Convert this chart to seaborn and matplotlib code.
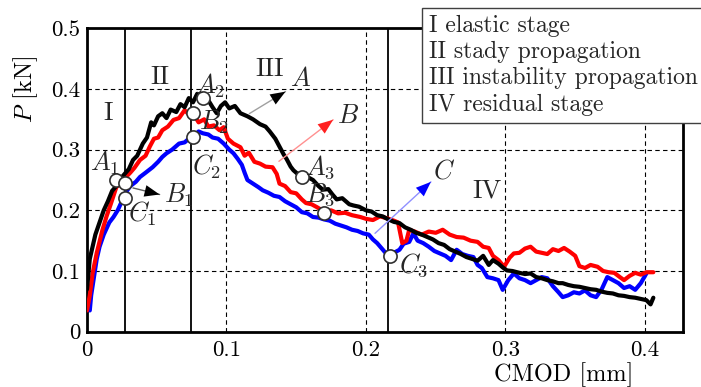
import matplotlib
matplotlib.use("Agg")
import matplotlib.pyplot as plt
import pandas as pd
import seaborn as sns

# specimen A (black)
a_x = [0.000, 0.002, 0.004, 0.006, 0.009, 0.012, 0.015, 0.018, 0.021, 0.024, 0.027, 0.030, 0.033, 0.036,
       0.040, 0.043, 0.046, 0.048, 0.051, 0.054, 0.057, 0.060, 0.064, 0.067, 0.070, 0.073, 0.076, 0.079,
       0.083, 0.086, 0.090, 0.093, 0.096, 0.099, 0.102, 0.106, 0.110, 0.115, 0.119, 0.124, 0.128, 0.131,
       0.135, 0.138, 0.141, 0.143, 0.146, 0.148, 0.151, 0.154, 0.158, 0.162, 0.166, 0.169, 0.173, 0.176,
       0.179, 0.183, 0.188, 0.191, 0.195, 0.200, 0.204, 0.208, 0.212, 0.216, 0.220, 0.224, 0.228, 0.232,
       0.236, 0.240, 0.244, 0.248, 0.252, 0.256, 0.260, 0.264, 0.268, 0.272, 0.276, 0.280, 0.284, 0.288,
       0.291, 0.295, 0.298, 0.301, 0.305, 0.310, 0.314, 0.318, 0.322, 0.326, 0.330, 0.334, 0.338, 0.341,
       0.345, 0.349, 0.353, 0.357, 0.361, 0.365, 0.369, 0.373, 0.377, 0.381, 0.385, 0.389, 0.393, 0.397,
       0.401, 0.404, 0.406]
a_y = [0.070, 0.120, 0.140, 0.160, 0.180, 0.200, 0.215, 0.232, 0.240, 0.252, 0.260, 0.268, 0.283, 0.290,
       0.310, 0.320, 0.345, 0.340, 0.355, 0.360, 0.352, 0.366, 0.362, 0.375, 0.370, 0.385, 0.378, 0.392,
       0.380, 0.385, 0.370, 0.360, 0.372, 0.378, 0.368, 0.372, 0.360, 0.355, 0.350, 0.342, 0.338, 0.330,
       0.318, 0.305, 0.292, 0.285, 0.272, 0.266, 0.260, 0.256, 0.255, 0.250, 0.240, 0.234, 0.235, 0.226,
       0.218, 0.220, 0.210, 0.208, 0.206, 0.200, 0.198, 0.192, 0.190, 0.185, 0.181, 0.179, 0.172, 0.168,
       0.163, 0.160, 0.156, 0.152, 0.146, 0.143, 0.136, 0.132, 0.128, 0.123, 0.120, 0.117, 0.125, 0.110,
       0.118, 0.112, 0.106, 0.101, 0.100, 0.097, 0.095, 0.096, 0.090, 0.088, 0.085, 0.083, 0.080, 0.080,
       0.077, 0.075, 0.074, 0.072, 0.070, 0.069, 0.066, 0.064, 0.063, 0.060, 0.059, 0.057, 0.056, 0.054,
       0.052, 0.045, 0.056]

# specimen B (red)
b_x = [0.000, 0.002, 0.004, 0.007, 0.011, 0.014, 0.017, 0.021, 0.024, 0.028, 0.031, 0.034, 0.038, 0.042,
       0.045, 0.048, 0.051, 0.054, 0.058, 0.062, 0.066, 0.070, 0.073, 0.076, 0.080, 0.084, 0.087, 0.091,
       0.095, 0.098, 0.101, 0.105, 0.110, 0.113, 0.116, 0.120, 0.124, 0.128, 0.133, 0.136, 0.138, 0.142,
       0.146, 0.150, 0.154, 0.157, 0.161, 0.165, 0.170, 0.175, 0.180, 0.185, 0.190, 0.196, 0.200, 0.205,
       0.210, 0.215, 0.220, 0.223, 0.226, 0.229, 0.231, 0.235, 0.240, 0.245, 0.250, 0.255, 0.260, 0.265,
       0.270, 0.275, 0.280, 0.284, 0.288, 0.291, 0.295, 0.299, 0.303, 0.306, 0.310, 0.314, 0.318, 0.322,
       0.326, 0.330, 0.334, 0.338, 0.342, 0.346, 0.350, 0.353, 0.357, 0.361, 0.366, 0.370, 0.374, 0.378,
       0.382, 0.385, 0.389, 0.393, 0.397, 0.401, 0.406]
b_y = [0.035, 0.060, 0.096, 0.130, 0.167, 0.190, 0.210, 0.238, 0.245, 0.255, 0.262, 0.270, 0.283, 0.290,
       0.305, 0.318, 0.320, 0.332, 0.338, 0.349, 0.352, 0.365, 0.358, 0.360, 0.345, 0.350, 0.338, 0.340,
       0.332, 0.337, 0.318, 0.310, 0.304, 0.290, 0.295, 0.280, 0.277, 0.272, 0.271, 0.260, 0.244, 0.240,
       0.230, 0.228, 0.218, 0.212, 0.210, 0.205, 0.198, 0.200, 0.195, 0.196, 0.192, 0.189, 0.186, 0.184,
       0.190, 0.187, 0.183, 0.180, 0.146, 0.150, 0.168, 0.165, 0.160, 0.165, 0.163, 0.168, 0.160, 0.156,
       0.155, 0.150, 0.148, 0.140, 0.138, 0.125, 0.118, 0.107, 0.122, 0.129, 0.130, 0.137, 0.140, 0.132,
       0.130, 0.128, 0.136, 0.133, 0.138, 0.132, 0.125, 0.108, 0.105, 0.110, 0.107, 0.100, 0.098, 0.097,
       0.090, 0.085, 0.092, 0.097, 0.094, 0.098, 0.098]

# specimen C (blue)
c_x = [0.002, 0.003, 0.005, 0.007, 0.009, 0.012, 0.016, 0.019, 0.022, 0.025, 0.028, 0.031, 0.035, 0.038,
       0.042, 0.047, 0.051, 0.054, 0.057, 0.061, 0.066, 0.070, 0.073, 0.076, 0.080, 0.083, 0.087, 0.090,
       0.094, 0.098, 0.102, 0.105, 0.108, 0.111, 0.113, 0.115, 0.119, 0.123, 0.126, 0.130, 0.134, 0.138,
       0.142, 0.146, 0.150, 0.154, 0.158, 0.162, 0.166, 0.170, 0.174, 0.178, 0.182, 0.186, 0.190, 0.194,
       0.198, 0.202, 0.205, 0.208, 0.211, 0.214, 0.217, 0.220, 0.224, 0.227, 0.231, 0.234, 0.237, 0.241,
       0.245, 0.249, 0.253, 0.257, 0.261, 0.265, 0.269, 0.273, 0.277, 0.280, 0.283, 0.287, 0.291, 0.295,
       0.298, 0.302, 0.306, 0.310, 0.314, 0.318, 0.322, 0.326, 0.330, 0.334, 0.338, 0.341, 0.345, 0.349,
       0.353, 0.357, 0.361, 0.365, 0.369, 0.373, 0.377, 0.381, 0.385, 0.389, 0.393, 0.397, 0.401]
c_y = [0.035, 0.060, 0.090, 0.120, 0.140, 0.160, 0.180, 0.189, 0.200, 0.215, 0.230, 0.240, 0.247, 0.255,
       0.262, 0.271, 0.280, 0.288, 0.294, 0.300, 0.310, 0.312, 0.318, 0.321, 0.330, 0.327, 0.325, 0.320,
       0.318, 0.310, 0.300, 0.294, 0.285, 0.275, 0.262, 0.250, 0.244, 0.238, 0.233, 0.229, 0.224, 0.222,
       0.215, 0.210, 0.205, 0.197, 0.195, 0.189, 0.188, 0.185, 0.183, 0.178, 0.175, 0.172, 0.168, 0.166,
       0.162, 0.160, 0.152, 0.146, 0.138, 0.130, 0.127, 0.130, 0.135, 0.145, 0.148, 0.162, 0.150, 0.146,
       0.140, 0.133, 0.129, 0.125, 0.118, 0.135, 0.128, 0.125, 0.123, 0.110, 0.105, 0.090, 0.088, 0.085,
       0.069, 0.085, 0.096, 0.088, 0.085, 0.080, 0.085, 0.090, 0.088, 0.075, 0.065, 0.057, 0.060, 0.065,
       0.063, 0.068, 0.060, 0.057, 0.070, 0.090, 0.085, 0.080, 0.072, 0.075, 0.069, 0.080, 0.096]

# marked points on the curves
pt_names = ["A_1", "B_1", "C_1", "A_2", "B_2", "C_2", "A_3", "B_3", "C_3"]
pt_x = [0.021, 0.027, 0.027, 0.083, 0.076, 0.076, 0.154, 0.170, 0.217]
pt_y = [0.250, 0.245, 0.220, 0.385, 0.360, 0.321, 0.255, 0.196, 0.125]
lab_x = [0.013, 0.066, 0.040, 0.088, 0.091, 0.086, 0.167, 0.167, 0.234]
lab_y = [0.279, 0.225, 0.195, 0.405, 0.345, 0.271, 0.271, 0.226, 0.110]

stage_names = ["I", "II", "III", "IV"]
stage_x = [0.015, 0.052, 0.131, 0.287]
stage_y = [0.360, 0.420, 0.432, 0.233]
stage_bounds = [0.0273, 0.0749, 0.216]

legend_lines = ["I elastic stage", "II stady propagation", "III instability propagation", "IV residual stage"]

df = pd.concat([
    pd.DataFrame({"CMOD": c_x, "P": c_y, "specimen": "C"}),
    pd.DataFrame({"CMOD": b_x, "P": b_y, "specimen": "B"}),
    pd.DataFrame({"CMOD": a_x, "P": a_y, "specimen": "A"}),
], ignore_index=True)

sns.set_theme(style="white")
plt.rcParams["font.family"] = ["cmr10", "DejaVu Serif"]
plt.rcParams["mathtext.fontset"] = "cm"
plt.rcParams["axes.unicode_minus"] = False
plt.rcParams["axes.formatter.use_mathtext"] = True

fig = plt.figure(figsize=(7.01, 3.87), dpi=100)
ax = fig.add_axes([0.1241, 0.1429, 0.8507, 0.7840])

sns.lineplot(data=df, x="CMOD", y="P", hue="specimen", hue_order=["C", "B", "A"],
             palette={"A": "black", "B": "#ff0000", "C": "#0000ff"},
             estimator=None, sort=False, linewidth=3, legend=False, ax=ax, zorder=3)

ax.set_xlim(0, 0.4275)
ax.set_ylim(0, 0.5)
ax.set_xticks([0, 0.1, 0.2, 0.3, 0.4])
ax.set_xticklabels(["0", "0.1", "0.2", "0.3", "0.4"])
ax.set_yticks([0, 0.1, 0.2, 0.3, 0.4, 0.5])
ax.set_yticklabels(["0", "0.1", "0.2", "0.3", "0.4", "0.5"])
ax.tick_params(length=0, labelsize=16.5, colors="black")
ax.tick_params(axis="x", pad=6)
ax.tick_params(axis="y", pad=5)

for g in [0.1, 0.2, 0.3, 0.4]:
    ax.axvline(g, color="black", lw=0.8, ls=(0, (4, 3)), zorder=1)
    ax.axhline(g, color="black", lw=0.8, ls=(0, (4, 3)), zorder=1)
for b in stage_bounds:
    ax.axvline(b, color="black", lw=1.3, zorder=2)

for s in ax.spines.values():
    s.set_color("black")
    s.set_linewidth(2)

ax.set_xlabel("CMOD [mm]", fontsize=17.5, color="black")
ax.set_ylabel(r"$P$ [kN]", fontsize=17.5, color="black")
ax.xaxis.set_label_coords(0.80, -0.10)
ax.yaxis.set_label_coords(-0.078, 0.80)

# arrows pointing to the curve names
arrows = [((0.1147, 0.357), (0.144, 0.398), "#a0a0a0", "black"),
          ((0.136, 0.278), (0.178, 0.352), "#ff9090", "#ff2020"),
          ((0.205, 0.159), (0.248, 0.250), "#9090ff", "#0000ff"),
          ((0.031, 0.238), (0.054, 0.225), "#606060", "black")]
for start, end, lc, hc in arrows:
    ax.annotate("", xy=end, xytext=start,
                arrowprops=dict(arrowstyle="-", color=lc, lw=1), zorder=5)
    ax.annotate("", xy=end, xytext=(end[0] - (end[0] - start[0]) * 0.3, end[1] - (end[1] - start[1]) * 0.3),
                arrowprops=dict(arrowstyle="-|>,head_length=0.9,head_width=0.35", color=hc, lw=0.01), zorder=5)
ax.text(0.153, 0.416, r"$A$", fontsize=19, ha="center", va="center")
ax.text(0.187, 0.355, r"$B$", fontsize=19, ha="center", va="center")
ax.text(0.256, 0.264, r"$C$", fontsize=19, ha="center", va="center")

ax.scatter(pt_x, pt_y, s=90, facecolor="white", edgecolor="#303030", linewidth=1.2, zorder=6)
for n, x, y in zip(pt_names, lab_x, lab_y):
    ax.text(x, y, "$" + n + "$", fontsize=19, ha="center", va="center", zorder=7)

for n, x, y in zip(stage_names, stage_x, stage_y):
    ax.text(x, y, n, fontsize=19, ha="center", va="center")

fig.text(0.612, 0.962, "\n".join(legend_lines), fontsize=17, ha="left", va="top", linespacing=1.24,
         bbox=dict(boxstyle="square,pad=0.3", facecolor="white", edgecolor="#404040", linewidth=1))

fig.savefig("out.png", dpi=100)
